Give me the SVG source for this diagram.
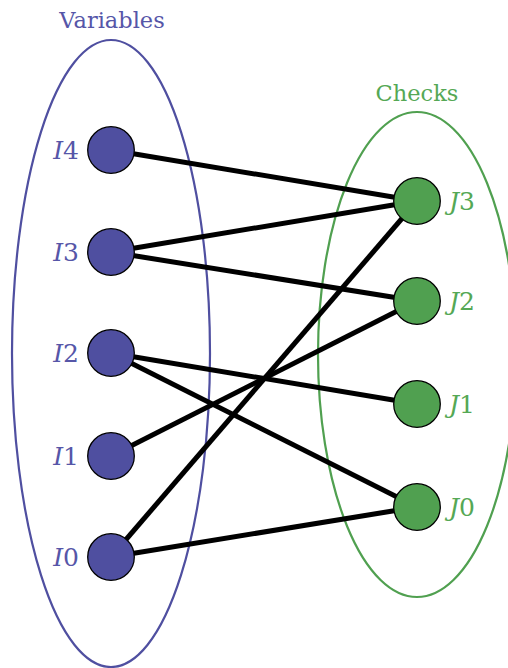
<svg xmlns="http://www.w3.org/2000/svg" width="508" height="668" viewBox="0 0 508 668">
<style>
text{font-family:"DejaVu Serif","Liberation Serif",serif}
.var{fill:#4F4FA0;stroke:#000;stroke-width:1.3}
.chk{fill:#50A050;stroke:#000;stroke-width:1.3}
.lv{fill:#5656A8;font-style:italic;font-size:25px}
.lc{fill:#55A855;font-style:italic;font-size:25px}
.d{font-style:normal}
.tv{fill:#5656A8;font-size:22.5px}
.tc{fill:#55A855;font-size:22.5px}
.e{stroke:#000;stroke-width:5;fill:none}
</style>
<g id="groups">
<ellipse cx="111" cy="353.5" rx="99" ry="313.5" fill="none" stroke="#4F4FA0" stroke-width="2.2"/>
<ellipse cx="417" cy="354.5" rx="99" ry="242.5" fill="none" stroke="#50A050" stroke-width="2.2"/>
<text class="tv" x="112" y="28" text-anchor="middle">Variables</text>
<text class="tc" x="417" y="101" text-anchor="middle">Checks</text>
</g>
<g id="connectors">
<line class="e" x1="111" y1="150" x2="417" y2="201"/>
<line class="e" x1="111" y1="252" x2="417" y2="201"/>
<line class="e" x1="111" y1="252" x2="417" y2="301"/>
<line class="e" x1="111" y1="353" x2="417" y2="404"/>
<line class="e" x1="111" y1="353" x2="417" y2="507"/>
<line class="e" x1="111" y1="456" x2="417" y2="301"/>
<line class="e" x1="111" y1="557" x2="417" y2="201"/>
<line class="e" x1="111" y1="557" x2="417" y2="507"/>
</g>
<g id="I4"><circle class="var" cx="111" cy="150" r="23.3"/><text class="lv" x="79" y="159" text-anchor="end">I<tspan class="d">4</tspan></text></g>
<g id="I3"><circle class="var" cx="111" cy="252" r="23.3"/><text class="lv" x="79" y="261" text-anchor="end">I<tspan class="d">3</tspan></text></g>
<g id="I2"><circle class="var" cx="111" cy="353" r="23.3"/><text class="lv" x="79" y="362" text-anchor="end">I<tspan class="d">2</tspan></text></g>
<g id="I1"><circle class="var" cx="111" cy="456" r="23.3"/><text class="lv" x="79" y="465" text-anchor="end">I<tspan class="d">1</tspan></text></g>
<g id="I0"><circle class="var" cx="111" cy="557" r="23.3"/><text class="lv" x="79" y="566" text-anchor="end">I<tspan class="d">0</tspan></text></g>
<g id="J3"><circle class="chk" cx="417" cy="201" r="23.3"/><text class="lc" x="449" y="210">J<tspan class="d">3</tspan></text></g>
<g id="J2"><circle class="chk" cx="417" cy="301" r="23.3"/><text class="lc" x="449" y="310">J<tspan class="d">2</tspan></text></g>
<g id="J1"><circle class="chk" cx="417" cy="404" r="23.3"/><text class="lc" x="449" y="413">J<tspan class="d">1</tspan></text></g>
<g id="J0"><circle class="chk" cx="417" cy="507" r="23.3"/><text class="lc" x="449" y="516">J<tspan class="d">0</tspan></text></g>
</svg>
